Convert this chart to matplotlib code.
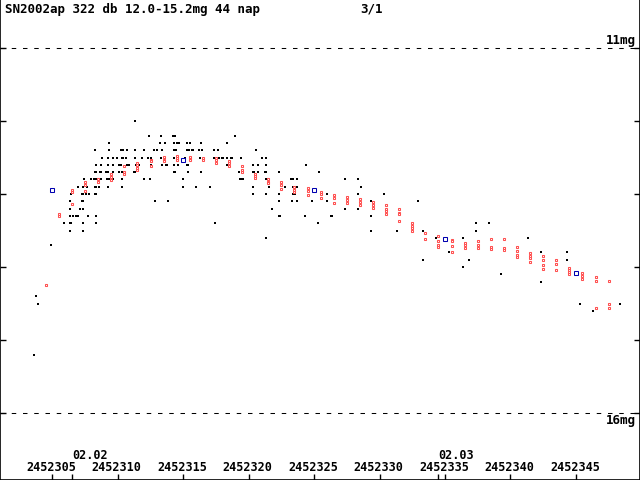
import matplotlib
matplotlib.use('Agg')
import matplotlib.pyplot as plt

JD0 = 2452300

# visual estimates: magnitude levels and the days (JD - 2452300) observed at each
black_levels = [12.0, 12.2, 12.3, 12.4, 12.5, 12.6, 12.7, 12.8, 12.9, 13.0, 13.1, 13.2,
                13.3, 13.4, 13.5, 13.6, 13.7, 13.8, 13.9, 14.0, 14.1, 14.2, 14.4, 14.5,
                14.6, 15.2]
black_days = [
    [11.32],
    [12.39, 13.30, 14.24, 14.37, 18.96],
    [9.31, 13.23, 13.59, 14.27, 14.53, 14.68, 15.31, 15.52, 16.36, 18.34],
    [8.26, 9.31, 10.27, 10.38, 10.71, 11.32, 12.01, 12.77, 13.00, 13.38, 14.27, 14.43,
     15.31, 15.47, 15.67, 15.75, 16.21, 16.44, 17.35, 17.66, 20.56],
    [8.80, 9.23, 9.61, 9.92, 10.32, 10.42, 10.63, 11.32, 11.85, 12.31, 12.54, 13.30,
     13.61, 14.27, 15.14, 16.28, 17.35, 17.73, 17.96, 18.04, 18.34, 18.65, 18.73, 19.42,
     21.02, 21.33],
    [8.34, 8.72, 9.23, 9.61, 10.10, 10.27, 10.68, 10.84, 11.37, 11.62, 12.54, 13.38,
     13.69, 13.76, 14.30, 14.63, 15.29, 15.37, 18.34, 20.33, 20.72, 21.33, 24.38],
    [8.26, 8.34, 8.64, 8.72, 9.10, 9.23, 9.61, 10.10, 10.32, 11.24, 11.32, 14.30, 14.37,
     15.37, 16.36, 19.26, 20.33, 20.41, 20.72, 21.25, 21.33, 22.32, 25.37],
    [7.42, 7.93, 8.19, 8.34, 8.72, 9.18, 9.31, 9.66, 10.32, 12.01, 12.46, 14.98, 19.34,
     19.42, 19.57, 21.33, 23.23, 23.38, 23.69, 27.36, 28.35],
    [6.96, 7.32, 7.63, 8.26, 8.36, 8.54, 9.23, 10.32, 14.98, 15.98, 17.05, 20.33, 21.56,
     22.78, 23.38, 23.69, 28.58],
    [6.41, 7.27, 7.37, 7.57, 7.78, 8.26, 8.36, 20.33, 21.33, 22.32, 23.38, 23.54, 25.98,
     28.35, 30.34],
    [6.33, 7.27, 7.37, 12.85, 13.84, 22.32, 23.31, 23.69, 24.84, 25.98, 29.35, 32.94],
    [6.33, 7.12, 7.35, 21.78, 27.36, 28.35],
    [6.33, 6.56, 6.81, 6.96, 7.73, 8.34, 22.32, 22.39, 24.31, 26.29, 26.36, 29.35],
    [5.89, 6.33, 6.43, 7.35, 8.34, 17.43, 25.30, 37.37, 38.36],
    [6.33, 7.35, 29.35, 31.33, 33.32, 37.37],
    [21.33, 34.31, 36.37, 41.34],
    [4.88],
    [35.31, 42.33, 44.32],
    [33.32, 36.83, 44.32],
    [36.37],
    [39.28],
    [42.33],
    [3.75],
    [3.91, 45.31, 48.37],
    [46.30],
    [3.58],
]

# daily points (red squares)
red_days = [4.5, 5.5, 6.5, 7.5, 8.5, 9.5, 10.5, 11.5, 12.5, 13.5, 14.5, 15.5, 16.5,
            17.5, 18.5, 19.5, 20.5, 21.5, 22.5, 23.5, 24.5, 25.5, 26.5, 27.5, 28.5,
            29.5, 30.5, 31.5, 32.5, 33.5, 34.5, 35.5, 36.5, 37.5, 38.5, 39.5, 40.5,
            41.5, 42.5, 43.5, 44.5, 45.5, 46.5, 47.5]
red_mags = [
    [14.24], [13.27, 13.30], [12.94, 12.97, 13.13], [12.83, 12.87, 12.96],
    [12.80, 12.83], [12.73, 12.77, 12.81], [12.61, 12.70, 12.73],
    [12.57, 12.60, 12.64, 12.67], [12.53, 12.55, 12.61], [12.49, 12.53, 12.55],
    [12.48, 12.51, 12.54], [12.49, 12.52, 12.54], [12.50, 12.54],
    [12.50, 12.53, 12.57], [12.55, 12.58, 12.61], [12.61, 12.67, 12.70],
    [12.73, 12.76, 12.78], [12.79, 12.83, 12.85], [12.83, 12.87, 12.93],
    [12.91, 12.94, 12.97], [12.92, 12.96, 13.01], [12.97, 13.00, 13.05],
    [13.01, 13.05, 13.12], [13.04, 13.08, 13.12], [13.07, 13.11, 13.15],
    [13.11, 13.15, 13.19], [13.15, 13.20, 13.23, 13.28], [13.20, 13.26, 13.28, 13.37],
    [13.40, 13.44, 13.47, 13.50], [13.53, 13.61], [13.57, 13.64, 13.70, 13.72],
    [13.63, 13.65, 13.71, 13.79], [13.67, 13.70, 13.74], [13.64, 13.70, 13.74],
    [13.61, 13.72, 13.75], [13.61, 13.74, 13.77], [13.72, 13.78, 13.83, 13.86],
    [13.81, 13.85, 13.88, 13.93], [13.85, 13.90, 13.97, 14.03], [13.90, 13.96, 14.04],
    [14.01, 14.04, 14.07, 14.10], [14.08, 14.13, 14.16], [14.14, 14.19, 14.56],
    [14.19, 14.51, 14.56],
]

# 10-day means (blue squares)
blue_days = [5.0, 15.0, 25.0, 35.0, 45.0]
blue_mags = [12.95, 12.53, 12.95, 13.61, 14.08]

jd_ticks = [2452305, 2452310, 2452315, 2452320, 2452325, 2452330, 2452335, 2452340, 2452345]
month_jd = [2452306.5, 2452334.5]
month_labels = ['02.02', '02.03']

title = 'SN2002ap 322 db 12.0-15.2mg 44 nap'
page = '3/1'

# expand to flat lists
bx, by = [], []
for m, days in zip(black_levels, black_days):
    for d in days:
        bx.append(JD0 + d)
        by.append(m)
rx, ry = [], []
for d, mags in zip(red_days, red_mags):
    for m in mags:
        rx.append(JD0 + d)
        ry.append(m)

fig = plt.figure(figsize=(6.4, 4.8), dpi=100)
ax = fig.add_axes([0, 0, 1, 1])
ax.set_xlim(JD0 + 1.0, JD0 + 49.9)
ax.set_ylim(16.918, 10.342)

ax.plot(bx, by, 's', ms=1.5, mew=0, color='black', antialiased=False)
ax.plot(rx, ry, 's', ms=1.5, mew=0.75, mfc='white', mec='#ff5050', antialiased=False)
ax.plot([JD0 + d for d in blue_days], blue_mags, 's', ms=2.9, mew=0.75, mfc='none',
        mec='#0000b0', antialiased=False)

for m in (11, 16):
    ax.axhline(m, color='black', lw=0.75, ls=(0, (4.3, 6.5)))

font = dict(family='DejaVu Sans Mono', weight='bold', size=9)
small = dict(family='DejaVu Sans Mono', weight='bold', size=8.5)
ax.text(JD0 + 49.6, 10.945, '11mg', ha='right', va='baseline', **font)
ax.text(JD0 + 49.6, 16.15, '16mg', ha='right', va='baseline', **font)

ax.spines['top'].set_visible(False)
for s in ['left', 'right', 'bottom']:
    ax.spines[s].set_linewidth(1.2)

ax.set_yticks([11, 12, 13, 14, 15, 16])
ax.set_xticks(jd_ticks + month_jd)
ax.tick_params(axis='both', direction='in', length=4, width=1, labelleft=False,
               labelbottom=False, right=True)

xt = ax.get_xaxis_transform()
for jd in jd_ticks:
    ax.text(jd - 0.08, 1 - 471 / 480, str(jd), transform=xt, ha='center',
            va='baseline', **small)
for jd, lab in zip(month_jd, month_labels):
    ax.text(jd, 1 - 459 / 480, lab, transform=xt, ha='left', va='baseline', **small)

fig.text(5 / 640, 1 - 3 / 480, title, ha='left', va='top', **font)
fig.text(360 / 640, 1 - 3 / 480, page, ha='left', va='top', **font)

fig.savefig('out.png', dpi=100)
